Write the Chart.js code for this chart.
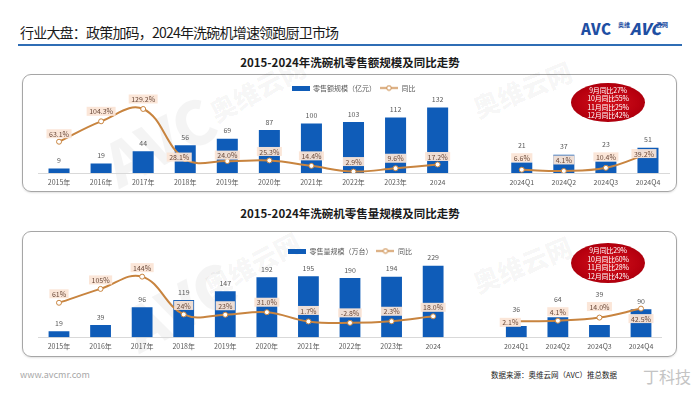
<!DOCTYPE html>
<html><head><meta charset="utf-8">
<script src="https://cdn.jsdelivr.net/npm/chart.js@4"></script>
<style>
html,body{margin:0;padding:0;background:#fff;}
body{width:700px;height:394px;position:relative;overflow:hidden;font-family:"Noto Sans CJK SC","Noto Sans",sans-serif;}
.abs{position:absolute;white-space:nowrap;}
canvas{display:block;}
#title{left:20px;top:23px;font-size:14px;line-height:18px;color:#1a1a1a;letter-spacing:-0.8px;}
#rule{left:18px;top:44px;width:664px;height:2px;background:#2f6db5;}
.sub{left:0;width:700px;text-align:center;font-size:11.5px;line-height:14px;font-weight:bold;color:#1a1a1a;}
.box{box-sizing:border-box;border:1px solid #a6a6a6;border-radius:9px;box-shadow:0 1px 2px rgba(0,0,0,0.12);}
.ell{box-sizing:border-box;border-radius:50%;background:radial-gradient(ellipse at center,#d3121c 0%,#b8000f 60%,#8f0008 100%);color:#fff;font-size:7px;line-height:8.5px;text-align:center;display:flex;flex-direction:column;justify-content:center;letter-spacing:-0.2px;}
.wm{color:rgba(0,0,0,0.045);font-weight:900;}
</style></head>
<body>
<div id="title" class="abs">行业大盘：政策加码，2024年洗碗机增速领跑厨卫市场</div>
<div class="abs" style="left:581px;top:20px;font-size:15px;line-height:18px;font-weight:900;color:#1f4fa3;letter-spacing:0.5px;">AVC</div>
<div class="abs" style="left:618px;top:21px;font-size:6px;line-height:8px;font-weight:bold;color:#1f4fa3;">奥维</div>
<div class="abs" style="left:630px;top:19px;font-size:16px;line-height:18px;font-weight:900;font-style:italic;color:#1f4fa3;">AVC</div>
<div class="abs" style="left:656px;top:21px;font-size:6px;line-height:8px;font-weight:bold;color:#1f4fa3;">云网</div>
<div id="rule" class="abs"></div>

<div class="abs sub" style="top:55px;">2015-2024年洗碗机零售额规模及同比走势</div>
<div class="abs box" style="left:22px;top:74px;width:655px;height:118px;"></div>
<div class="abs wm" style="left:100px;top:95px;font-size:60px;transform:rotate(-28deg);">AVC</div>
<div class="abs wm" style="left:205px;top:70px;font-size:26px;transform:rotate(-28deg);">奥维云网</div>
<div class="abs wm" style="left:470px;top:70px;font-size:26px;transform:rotate(-22deg);">奥维云网</div>
<div class="abs" style="left:22px;top:74px;width:655px;height:118px;"><canvas id="c1" width="655" height="118"></canvas></div>
<div class="abs ell" style="left:571px;top:83px;width:74px;height:39px;"><div>9月同比27%</div><div>10月同比55%</div><div>11月同比25%</div><div>12月同比42%</div></div>

<div class="abs sub" style="top:206px;">2015-2024年洗碗机零售量规模及同比走势</div>
<div class="abs box" style="left:22px;top:231px;width:655px;height:126px;"></div>
<div class="abs wm" style="left:120px;top:260px;font-size:60px;transform:rotate(-28deg);">AVC</div>
<div class="abs wm" style="left:200px;top:245px;font-size:26px;transform:rotate(-28deg);">奥维云网</div>
<div class="abs wm" style="left:470px;top:245px;font-size:26px;transform:rotate(-22deg);">奥维云网</div>
<div class="abs" style="left:22px;top:231px;width:655px;height:126px;"><canvas id="c2" width="655" height="126"></canvas></div>
<div class="abs ell" style="left:571px;top:243px;width:74px;height:40px;"><div>9月同比29%</div><div>10月同比60%</div><div>11月同比28%</div><div>12月同比42%</div></div>

<div class="abs" style="left:20px;top:369px;font-size:9px;line-height:12px;color:#a8a8a8;">www.avcmr.com</div>
<div class="abs" style="left:491px;top:370px;font-size:7.5px;line-height:10px;color:#222;">数据来源：奥维云网（AVC）推总数据</div>
<div class="abs" style="left:643px;top:366px;font-size:16px;line-height:20px;color:#c4c4c4;">丁科技</div>

<script>
// ---- data ----
const categories = ['2015年','2016年','2017年','2018年','2019年','2020年','2021年','2022年','2023年','2024','','2024Q1','2024Q2','2024Q3','2024Q4'];
const retailSales = [9,19,44,56,69,87,100,103,112,132,null,21,37,23,51];          // 亿元
const retailSalesYoY = [63.1,104.3,129.2,28.1,24.0,25.3,14.4,2.9,9.6,17.2,null,6.6,4.1,10.4,39.2];
const retailVolume = [19,39,96,119,147,192,195,190,194,229,null,36,64,39,90];     // 万台
const retailVolumeYoY = [61,105,144,24,23,31.0,1.7,-2.8,2.3,18.0,null,2.1,4.1,14.0,42.5];
const salesLegend = ['零售额规模（亿元）','同比'];
const volumeLegend = ['零售量规模（万台）','同比'];

// ---- styling ----
const BLUE = '#0f5cb8';
const ORANGE = '#c8843f';
const salesYoYDecimals = [1,1,1,1,1,1,1,1,1,1,1,1,1,1,1];
const volumeYoYDecimals = [0,0,0,0,0,1,1,1,1,1,1,1,1,1,1];
const salesLabelOffsets = [[0,-8],[0,-10],[0,-10],[-6,-2],[0,-6],[0,-9],[0,-10],[0,-10],[0,-10],[0,-8],null,[0,-12],[0,-11],[0,-11],[-4,0]];
const volumeLabelOffsets = [[0,-9],[0,-9],[0,-9],[0,-9],[0,-9],[0,-10],[0,-11],[0,-10],[0,-10],[0,-9],null,[-6,1],[0,-9],[0,-11],[0,10]];

Chart.defaults.font.family = '"Noto Sans CJK SC","Noto Sans",sans-serif';

function legendBoxImg(color){const c=document.createElement('canvas');c.width=18;c.height=5;const x=c.getContext('2d');x.fillStyle=color;x.fillRect(0,0,18,5);return c;}
function legendLineImg(color){const c=document.createElement('canvas');c.width=18;c.height=7;const x=c.getContext('2d');x.strokeStyle=color;x.lineWidth=1.5;x.beginPath();x.moveTo(0,3.5);x.lineTo(18,3.5);x.stroke();x.fillStyle='#fff';x.lineWidth=1;x.beginPath();x.arc(9,3.5,2.3,0,Math.PI*2);x.fill();x.stroke();return c;}

const labelPlugin = {
  id:'valueLabels',
  afterDatasetsDraw(chart, args, opts){
    const ctx = chart.ctx;
    const bars = chart.getDatasetMeta(0).data;
    const pts = chart.getDatasetMeta(1).data;
    const bv = chart.data.datasets[0].data;
    const lv = chart.data.datasets[1].data;
    ctx.save();
    ctx.font = '7px "Noto Sans CJK SC"';
    ctx.textAlign = 'center';
    ctx.textBaseline = 'middle';
    const boxes = [];
    pts.forEach((p,i)=>{
      if (lv[i]==null) return;
      const txt = lv[i].toFixed(opts.decimals[i]) + '%';
      const w = ctx.measureText(txt).width + 5;
      const off = opts.offsets[i] || [0,-10];
      boxes[i] = {cx:p.x+off[0], cy:p.y+off[1], w, h:9, txt};
    });
    bars.forEach((b,i)=>{
      if (bv[i]==null) return;
      let y = b.y - 8;
      const bx = boxes[i];
      if (bx && Math.abs(y - bx.cy) < 12.5) y = bx.cy - bx.h/2 - 8;
      ctx.fillStyle = '#595959';
      ctx.fillText(String(bv[i]), b.x, y);
    });
    boxes.forEach(bx=>{
      if (!bx) return;
      ctx.fillStyle = 'rgba(251,229,214,0.95)';
      ctx.fillRect(bx.cx-bx.w/2, bx.cy-bx.h/2, bx.w, bx.h);
      ctx.fillStyle = '#6b4a3a';
      ctx.fillText(bx.txt, bx.cx, bx.cy+0.5);
    });
    ctx.restore();
  }
};

function makeChart(id, barData, lineData, legendText, yMax, y1Min, y1Max, pad, decimals, offsets){
  return new Chart(document.getElementById(id), {
    type:'bar',
    data:{
      labels:categories,
      datasets:[
        {label:legendText[0], data:barData, backgroundColor:BLUE, barPercentage:0.5, categoryPercentage:1, yAxisID:'y', order:2},
        {type:'line', label:legendText[1], data:lineData, borderColor:ORANGE, borderWidth:2, tension:0.4, spanGaps:false,
         pointRadius:2.5, pointBackgroundColor:'#fff', pointBorderColor:ORANGE, pointBorderWidth:1, yAxisID:'y1', order:1}
      ]
    },
    options:{
      responsive:false, animation:false, devicePixelRatio:1,
      layout:{padding:pad},
      scales:{
        x:{grid:{display:false,drawTicks:false,tickLength:0}, border:{display:true,color:'#d9d9d9'},
           ticks:{font:{size:7},color:'#595959',padding:5,autoSkip:false,maxRotation:0,minRotation:0}},
        y:{display:false,min:0,max:yMax},
        y1:{display:false,min:y1Min,max:y1Max}
      },
      plugins:{
        tooltip:{enabled:false},
        legend:{position:'top',align:'center',
          labels:{usePointStyle:true,pointStyleWidth:18,boxHeight:7,font:{size:7},color:'#595959',padding:4,
            generateLabels(){return [
              {text:legendText[0],pointStyle:legendBoxImg(BLUE),fillStyle:BLUE,strokeStyle:BLUE,lineWidth:0,hidden:false,datasetIndex:0,fontColor:'#595959'},
              {text:legendText[1],pointStyle:legendLineImg(ORANGE),fillStyle:'#fff',strokeStyle:ORANGE,lineWidth:0,hidden:false,datasetIndex:1,fontColor:'#595959'}
            ];}}},
        valueLabels:{decimals, offsets}
      }
    },
    plugins:[labelPlugin]
  });
}

makeChart('c1', retailSales, retailSalesYoY, salesLegend, 144.3, 0, 144.3,
  {top:6.5,bottom:0.6,left:16,right:8}, salesYoYDecimals, salesLabelOffsets);
makeChart('c2', retailVolume, retailVolumeYoY, volumeLegend, 232.8, -48.6, 182.5,
  {top:12.5,bottom:1.3,left:16.2,right:15.2}, volumeYoYDecimals, volumeLabelOffsets);
</script>
</body></html>
